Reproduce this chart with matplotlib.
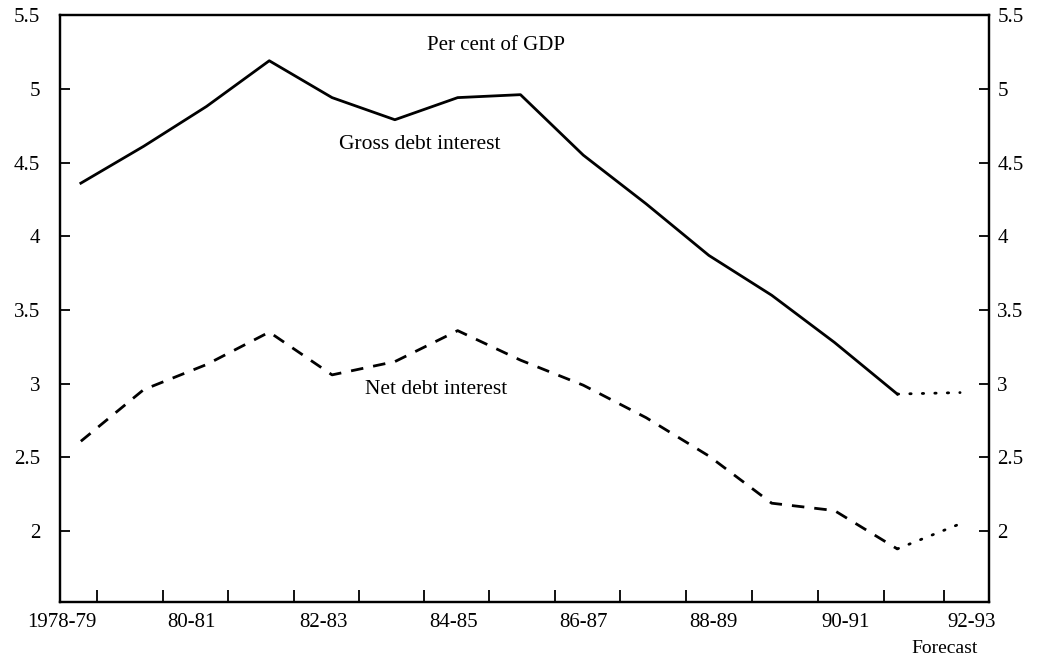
import matplotlib.pyplot as plt
import numpy as np

plt.rcParams['font.family'] = ['Liberation Serif', 'DejaVu Serif']

years = ['1978-79', '1979-80', '1980-81', '1981-82', '1982-83', '1983-84', '1984-85',
         '1985-86', '1986-87', '1987-88', '1988-89', '1989-90', '1990-91', '1991-92', '1992-93']
gross = [4.36, 4.61, 4.88, 5.19, 4.94, 4.79, 4.94, 4.96, 4.55, 4.22, 3.87, 3.60, 3.28, 2.93, 2.94]
net = [2.61, 2.96, 3.13, 3.35, 3.06, 3.15, 3.36, 3.16, 2.99, 2.77, 2.51, 2.19, 2.14, 1.88, 2.05]
n_forecast = 1  # last value is a forecast

x_labels = ['1978-79', '80-81', '82-83', '84-85', '86-87', '88-89', '90-91', '92-93']
y_ticks = [2, 2.5, 3, 3.5, 4, 4.5, 5, 5.5]
y_ticklabels = ['2', '2.5', '3', '3.5', '4', '4.5', '5', '5.5']

# tick marks / label spots on the scanned axis (in year-index units)
tick_pos = [0.26, 1.31, 2.35, 3.40, 4.43, 5.47, 6.50, 7.55, 8.59, 9.64, 10.69, 11.74, 12.79, 13.75]
label_pos = [-0.3, 1.76, 3.86, 5.93, 8.0, 10.08, 12.17, 14.19]

x = np.arange(len(years))
cut = len(years) - n_forecast - 1

fig = plt.figure(figsize=(10.44, 6.56), dpi=100)
ax = fig.add_axes([0.057, 0.0823, 0.8903, 0.8948])

ax.plot(x[:cut + 1], gross[:cut + 1], color='black', lw=2.0)
ax.plot(x[cut:], gross[cut:], color='black', lw=2.0, linestyle=(0, (0.5, 4.0)), dash_capstyle='round')
ax.plot(x[:cut + 1], net[:cut + 1], color='black', lw=2.0, linestyle=(0, (4.5, 3.6)))
ax.plot(x[cut:], net[cut:], color='black', lw=2.0, linestyle=(0, (0.5, 4.0)), dash_capstyle='round')

ax.set_xlim(-0.34, 14.46)
ax.set_ylim(1.52, 5.5)

ax.set_xticks(tick_pos)
ax.set_xticklabels([])
ax.tick_params(axis='x', direction='in', length=9, width=1.3)
for lp, lab in zip(label_pos, x_labels):
    ax.text(lp, -0.018, lab, transform=ax.get_xaxis_transform(), ha='center', va='top', fontsize=15)
ax.text(13.75, -0.065, 'Forecast', transform=ax.get_xaxis_transform(), ha='center', va='top', fontsize=14)

# left axis labels
ax.set_yticks(y_ticks)
ax.set_yticklabels(y_ticklabels)
ax.tick_params(axis='y', direction='in', length=7, width=1.3, labelsize=15, pad=14)

# right axis, same scale
ax2 = ax.twinx()
ax2.set_ylim(ax.get_ylim())
ax2.set_yticks(y_ticks)
ax2.set_yticklabels(y_ticklabels)
ax2.tick_params(axis='y', direction='in', length=7, width=1.3, labelsize=15, pad=6)

for a in (ax, ax2):
    for s in a.spines.values():
        s.set_linewidth(1.6)

ax.text(0.47, 0.965, 'Per cent of GDP', transform=ax.transAxes, ha='center', va='top', fontsize=15)
ax.text(5.4, 4.62, 'Gross debt interest', ha='center', va='center', fontsize=15.5)
ax.text(5.65, 2.96, 'Net debt interest', ha='center', va='center', fontsize=15.5)

plt.savefig('out.png', dpi=100)
